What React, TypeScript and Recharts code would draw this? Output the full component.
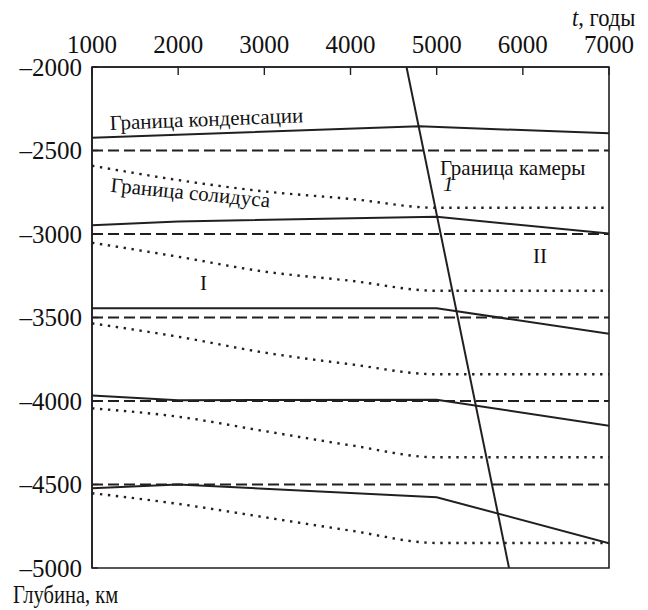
import React from 'react';
import { LineChart, Line, XAxis, YAxis, ReferenceArea, ReferenceDot } from 'recharts';

// ---- axes ----
const xTicks = [1000, 2000, 3000, 4000, 5000, 6000, 7000];
const yTicks = [-2000, -2500, -3000, -3500, -4000, -4500, -5000];
const xDomain = [1000, 7000];
const yDomain = [-5000, -2000];

// ---- solid boundaries (t, depth) ----
const solid1 = [
  { t: 1000, d: -2423 },
  { t: 4800, d: -2355 },
  { t: 7000, d: -2397 },
];
const solid2 = [
  { t: 1000, d: -2948 },
  { t: 2000, d: -2925 },
  { t: 5000, d: -2897 },
  { t: 7000, d: -2997 },
];
const solid3 = [
  { t: 1000, d: -3445 },
  { t: 5000, d: -3445 },
  { t: 7000, d: -3597 },
];
const solid4 = [
  { t: 1000, d: -3967 },
  { t: 2000, d: -3995 },
  { t: 5000, d: -3993 },
  { t: 7000, d: -4148 },
];
const solid5 = [
  { t: 1000, d: -4522 },
  { t: 2000, d: -4500 },
  { t: 5000, d: -4576 },
  { t: 7000, d: -4852 },
];

// ---- dashed levels ----
const dashLevels = [-2500, -3000, -3500, -4000, -4500];

// ---- dotted (solidus) curves ----
const dotted1 = [
  { t: 1000, d: -2591 },
  { t: 2000, d: -2677 },
  { t: 3000, d: -2745 },
  { t: 4000, d: -2790 },
  { t: 5000, d: -2843 },
  { t: 7000, d: -2843 },
];
const dotted2 = [
  { t: 1000, d: -3052 },
  { t: 2000, d: -3136 },
  { t: 3000, d: -3225 },
  { t: 4000, d: -3280 },
  { t: 5000, d: -3340 },
  { t: 7000, d: -3340 },
];
const dotted3 = [
  { t: 1000, d: -3535 },
  { t: 2000, d: -3615 },
  { t: 3000, d: -3710 },
  { t: 4000, d: -3780 },
  { t: 5000, d: -3840 },
  { t: 7000, d: -3840 },
];
const dotted4 = [
  { t: 1000, d: -4044 },
  { t: 2000, d: -4094 },
  { t: 3000, d: -4180 },
  { t: 4000, d: -4265 },
  { t: 5000, d: -4337 },
  { t: 7000, d: -4337 },
];
const dotted5 = [
  { t: 1000, d: -4552 },
  { t: 2000, d: -4616 },
  { t: 3000, d: -4696 },
  { t: 4000, d: -4776 },
  { t: 5000, d: -4850 },
  { t: 7000, d: -4850 },
];

// ---- chamber boundary ----
const chamber = [
  { t: 4650, d: -2000 },
  { t: 5840, d: -5000 },
];

// ---- annotations ----
const annoTexts = ['Граница конденсации', 'Граница солидуса', 'Граница камеры', '1', 'I', 'II'];
const annoT = [1209, 1209, 5039, 5073, 2294, 6199];
const annoD = [-2377, -2747, -2647, -2745, -3335, -3174];
const annoAngle = [-2.3, 5.6, 0, 0, 0, 0];
const annoAnchor = ['start', 'start', 'start', 'start', 'middle', 'middle'];
const annoItalic = [false, false, false, true, false, false];

const INK = '#231f20';
const FONT = '"Liberation Serif", "Times New Roman", serif';

const fmt = (v: number) => String(v).replace('-', '\u2013');

const solids = [solid1, solid2, solid3, solid4, solid5];
const dotteds = [dotted1, dotted2, dotted3, dotted4, dotted5];

export default function App() {
  return (
    <div style={{ position: 'absolute', left: 0, top: 0, width: 648, height: 610, background: '#fff' }}>
      <LineChart
        width={648}
        height={610}
        margin={{ top: 37, left: 32, right: 39, bottom: 42 }}
        style={{ fontFamily: FONT }}
      >
        <XAxis
          type="number"
          dataKey="t"
          orientation="top"
          domain={xDomain}
          ticks={xTicks}
          height={30}
          allowDataOverflow
          axisLine={{ stroke: INK, strokeWidth: 1.6 }}
          tickLine={{ stroke: INK, strokeWidth: 1.4 }}
          tickSize={-8}
          tickMargin={22}
          tick={{ fill: '#111', fontSize: 25, fontFamily: FONT }}
          interval={0}
        />
        <YAxis
          type="number"
          domain={yDomain}
          ticks={yTicks}
          width={60}
          allowDataOverflow
          axisLine={{ stroke: INK, strokeWidth: 1.6 }}
          tickLine={{ stroke: INK, strokeWidth: 1.4 }}
          tickSize={-6}
          tickMargin={16}
          tickFormatter={fmt}
          tick={{ fill: '#111', fontSize: 25, fontFamily: FONT }}
          interval={0}
        />
        <ReferenceArea
          x1={xDomain[0]}
          x2={xDomain[1]}
          y1={yDomain[0]}
          y2={yDomain[1]}
          fill="none"
          stroke={INK}
          strokeWidth={1.6}
        />
        {dashLevels.map((lv, i) => (
          <Line
            key={'dash' + i}
            data={[{ t: xDomain[0], d: lv }, { t: xDomain[1], d: lv }]}
            dataKey="d"
            type="linear"
            stroke={INK}
            strokeWidth={2}
            strokeDasharray="11 5"
            dot={false}
            activeDot={false}
            isAnimationActive={false}
          />
        ))}
        {dotteds.map((s, i) => (
          <Line
            key={'dot' + i}
            data={s}
            dataKey="d"
            type="monotone"
            stroke={INK}
            strokeWidth={2.4}
            strokeDasharray="2.4 5.6"
            dot={false}
            activeDot={false}
            isAnimationActive={false}
          />
        ))}
        {solids.map((s, i) => (
          <Line
            key={'sol' + i}
            data={s}
            dataKey="d"
            type="linear"
            stroke={INK}
            strokeWidth={2}
            dot={false}
            activeDot={false}
            isAnimationActive={false}
          />
        ))}
        <Line
          data={chamber}
          dataKey="d"
          type="linear"
          stroke={INK}
          strokeWidth={2}
          dot={false}
          activeDot={false}
          isAnimationActive={false}
        />
        {annoTexts.map((txt, i) => (
          <ReferenceDot
            key={'a' + i}
            x={annoT[i]}
            y={annoD[i]}
            r={0}
            fill="none"
            stroke="none"
            label={(p: any) => {
              const vb = p.viewBox || {};
              const x = vb.x ?? 0;
              const y = vb.y ?? 0;
              return (
                <text
                  x={x}
                  y={y}
                  textAnchor={annoAnchor[i] as any}
                  fontSize={21}
                  fontFamily={FONT}
                  fontStyle={annoItalic[i] ? 'italic' : 'normal'}
                  fill="#111"
                  transform={`rotate(${annoAngle[i]} ${x} ${y})`}
                >
                  {txt}
                </text>
              );
            }}
          />
        ))}
      </LineChart>
      <div
        style={{
          position: 'absolute',
          right: 13,
          top: 4,
          fontFamily: FONT,
          fontSize: 25,
          color: '#111',
          lineHeight: '28px',
          transform: 'scaleX(0.9)',
          transformOrigin: 'right center',
          whiteSpace: 'nowrap',
        }}
      >
        <i>t</i>, годы
      </div>
      <div
        style={{
          position: 'absolute',
          left: 13,
          top: 581,
          fontFamily: FONT,
          fontSize: 25,
          color: '#111',
          lineHeight: '28px',
          transform: 'scaleX(0.82)',
          transformOrigin: 'left center',
          whiteSpace: 'nowrap',
        }}
      >
        Глубина, км
      </div>
    </div>
  );
}
